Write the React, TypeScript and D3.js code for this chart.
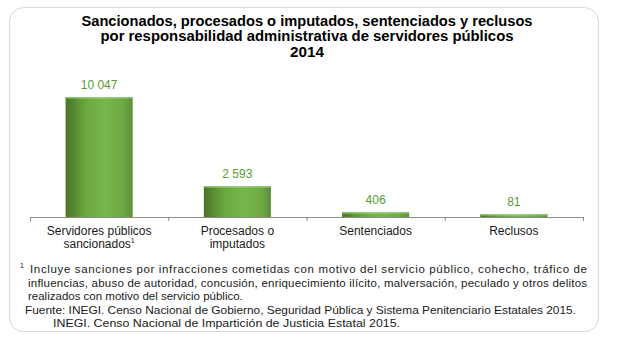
import React from "react";
import * as d3 from "d3";

const categories = ["Servidores públicos|sancionados", "Procesados o|imputados", "Sentenciados", "Reclusos"];
const values = [10047, 2593, 406, 81];
const valueLabels = ["10 047", "2 593", "406", "81"];
const titleLines = [
  "Sancionados, procesados o imputados, sentenciados y reclusos",
  "por responsabilidad administrativa de servidores públicos",
  "2014",
];
const titleWidths = [451, 413, 34];
const footLines = [
  "Incluye sanciones por infracciones cometidas con motivo del servicio público, cohecho, tráfico de",
  "influencias, abuso de autoridad, concusión, enriquecimiento ilícito, malversación, peculado y otros delitos",
  "realizados con motivo del servicio público.",
];
const sourceLines = [
  "Fuente: INEGI.  Censo Nacional de Gobierno, Seguridad Pública y Sistema Penitenciario Estatales 2015.",
  "INEGI.  Censo Nacional de Impartición de Justicia Estatal 2015.",
];

export default function App() {
  const W = 623, H = 344;
  const x0 = 30, x1 = 583, yBase = 217, yTop = 97;
  const x = d3.scaleBand<number>().domain(d3.range(values.length)).range([x0, x1]).paddingInner(0.515).paddingOuter(0.2575);
  const y = d3.scaleLinear().domain([0, 10047]).range([yBase, yTop]);
  const font = "Arial, 'Liberation Sans', sans-serif";
  const ticks = d3.range(values.length + 1).map((i) => x0 + ((x1 - x0) / values.length) * i);
  return (
    <svg width={W} height={H} style={{ position: "absolute", left: 0, top: 0 }} fontFamily={font}>
      <defs>
        <linearGradient id="cyl" x1="0" x2="1" y1="0" y2="0">
          <stop offset="0" stopColor="#4a7428" />
          <stop offset="0.3" stopColor="#6aa83e" />
          <stop offset="0.6" stopColor="#76b74a" />
          <stop offset="0.85" stopColor="#6eaa44" />
          <stop offset="1" stopColor="#5e8f3a" />
        </linearGradient>
        <linearGradient id="cap" x1="0" x2="1" y1="0" y2="0">
          <stop offset="0" stopColor="#8cc46a" />
          <stop offset="0.5" stopColor="#a3d17f" />
          <stop offset="1" stopColor="#8cc46a" />
        </linearGradient>
      </defs>
      <rect x={0} y={0} width={W} height={H} fill="#ffffff" />
      <rect x={9.5} y={7.5} width={589} height={324} rx={14} ry={14} fill="#fff" stroke="#d9d9d9" strokeWidth={1} />
      {titleLines.map((t, i) => (
        <text
          key={i}
          x={307}
          y={25.5 + i * 15.5}
          textAnchor="middle"
          fontSize={14.5}
          fontWeight="bold"
          fill="#000"
          textLength={titleWidths[i]}
          lengthAdjust="spacingAndGlyphs"
        >
          {t}
        </text>
      ))}
      {values.map((v, i) => {
        const bx = x(i)!;
        const bw = x.bandwidth();
        const h = Math.max(yBase - y(v), 3);
        const top = yBase - h;
        return (
          <g key={i}>
            <rect x={bx} y={top} width={bw} height={h} fill="url(#cyl)" />
            <rect x={bx} y={top} width={bw} height={1.5} fill="url(#cap)" />
            <text x={bx + bw / 2} y={top - 8} textAnchor="middle" fontSize={12} fill="#5a9a35">
              {valueLabels[i]}
            </text>
          </g>
        );
      })}
      <line x1={x0} x2={x1} y1={yBase + 0.5} y2={yBase + 0.5} stroke="#8c8c8c" />
      {ticks.map((t, i) => (
        <line key={i} x1={t + 0.5} x2={t + 0.5} y1={yBase} y2={yBase + 4} stroke="#8c8c8c" />
      ))}
      {categories.map((c, i) => {
        const lines = c.split("|");
        const cx = x(i)! + x.bandwidth() / 2;
        return lines.map((l, j) => (
          <text key={i + "-" + j} x={cx} y={235 + j * 13} textAnchor="middle" fontSize={12} fill="#1a1a1a">
            {l}
            {i === 0 && j === 1 ? <tspan fontSize={7} dy={-5}>1</tspan> : null}
          </text>
        ));
      })}
      <text x={20} y={268} fontSize={7} fill="#1a1a1a">1</text>
      {footLines.map((t, i) => (
        <text
          key={i}
          x={i === 0 ? 30 : 28}
          y={273 + i * 13.5}
          fontSize={11.5}
          fill="#1a1a1a"
          textLength={i < 2 ? (i === 0 ? 557 : 559) : undefined}
          lengthAdjust="spacing"
        >
          {t}
        </text>
      ))}
      <text x={25} y={313.5} fontSize={11.5} fill="#1a1a1a" textLength={551} lengthAdjust="spacingAndGlyphs">
        {sourceLines[0]}
      </text>
      <text x={53} y={327} fontSize={11.5} fill="#1a1a1a" textLength={347} lengthAdjust="spacingAndGlyphs">
        {sourceLines[1]}
      </text>
    </svg>
  );
}
